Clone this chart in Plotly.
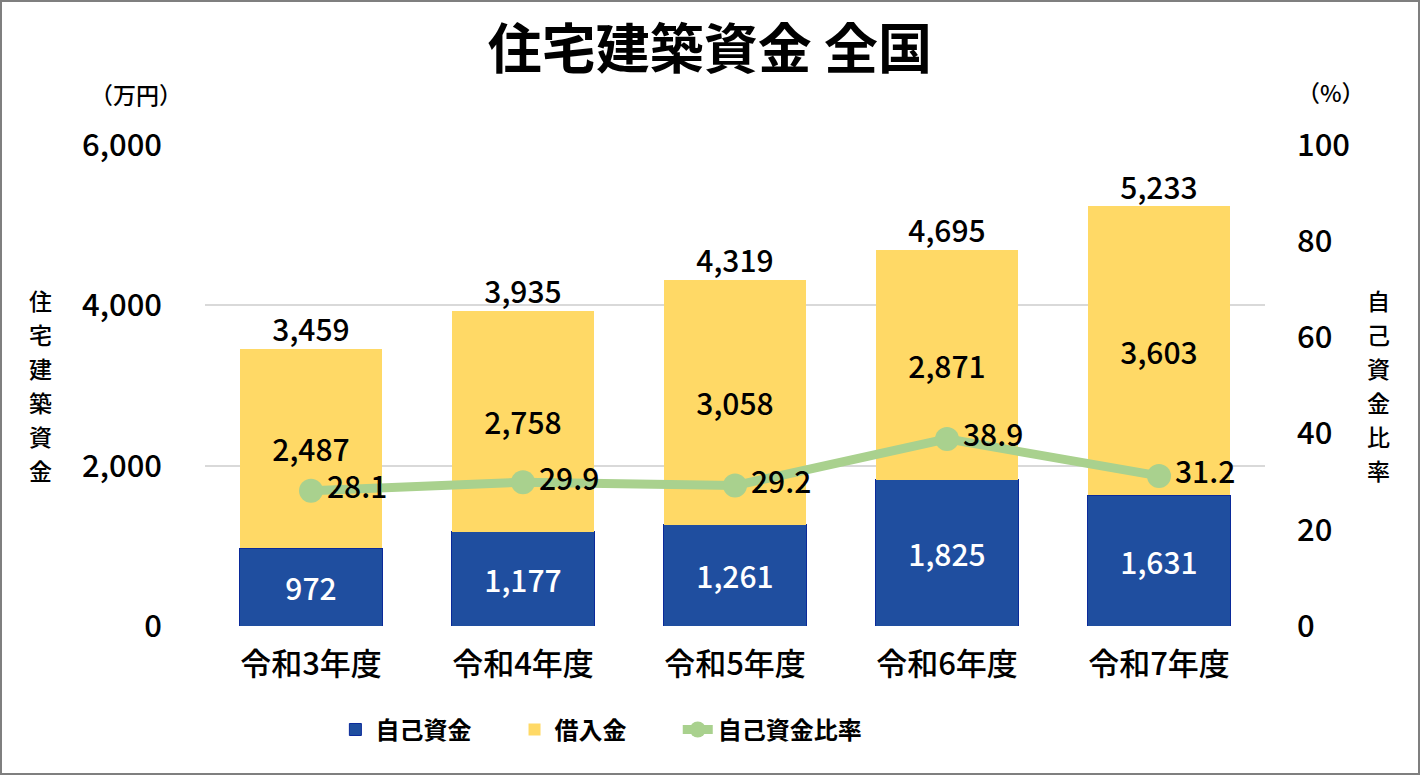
import plotly.graph_objects as go

# データ
years = ['令和3年度', '令和4年度', '令和5年度', '令和6年度', '令和7年度']
jiko = [972, 1177, 1261, 1825, 1631]        # 自己資金
kariire = [2487, 2758, 3058, 2871, 3603]    # 借入金
total = [3459, 3935, 4319, 4695, 5233]      # 合計
ratio = [28.1, 29.9, 29.2, 38.9, 31.2]      # 自己資金比率

FONT = 'Noto Sans CJK JP'
BLUE = '#1F4E9F'
YELLOW = '#FFD966'
GREEN = '#A9D18E'
LBL = dict(size=30, family=FONT, weight=500)

fmt = lambda v: f'{v:,}'

fig = go.Figure()

fig.add_trace(go.Bar(
    x=years, y=jiko, name='自己資金', legend='legend',
    marker=dict(color=BLUE, line=dict(color='#0A2A9A', width=1)),
    text=[fmt(v) for v in jiko], textposition='inside', insidetextanchor='middle',
    textfont=dict(LBL, color='white'),
    hoverinfo='skip',
))
fig.add_trace(go.Bar(
    x=years, y=kariire, name='借入金', legend='legend2',
    marker=dict(color=YELLOW, line=dict(width=0)),
    text=[fmt(v) for v in kariire], textposition='inside', insidetextanchor='middle',
    textfont=dict(LBL, color='black'),
    hoverinfo='skip',
))
# 合計ラベル
fig.add_trace(go.Scatter(
    x=years, y=total, mode='text', showlegend=False,
    text=[fmt(v) for v in total], textposition='top center',
    textfont=dict(LBL, color='black'),
    hoverinfo='skip',
))
fig.add_trace(go.Scatter(
    x=years, y=ratio, name='自己資金比率', yaxis='y2', legend='legend3',
    mode='lines+markers+text',
    line=dict(color=GREEN, width=9),
    marker=dict(color=GREEN, size=24),
    text=[f'{v:.1f}' for v in ratio], textposition='middle right',
    textfont=dict(LBL, color='black'),
    hoverinfo='skip',
))

leg = dict(orientation='h', y=-0.216, yanchor='middle', xanchor='left',
           font=dict(size=24, weight='bold'), itemwidth=30, bgcolor='rgba(0,0,0,0)')

fig.update_layout(
    width=1420, height=775,
    barmode='stack', bargap=0.33,
    paper_bgcolor='white', plot_bgcolor='white',
    font=dict(family=FONT, color='black'),
    margin=dict(l=205, r=155, t=145, b=149),
    title=dict(text='住宅建築資金 全国', x=0.5, xanchor='center', y=0.935, yanchor='middle',
               font=dict(size=54, family=FONT, weight='bold')),
    xaxis=dict(showline=False, ticks='', tickfont=dict(size=31, weight=500),
               ticklabelstandoff=17),
    yaxis=dict(range=[0, 6000], tickvals=[0, 2000, 4000, 6000], tickformat=',',
               showgrid=True, gridcolor='#D9D9D9', gridwidth=2, zeroline=False,
               tickfont=dict(size=31, weight=500), ticklabelstandoff=42),
    yaxis2=dict(range=[0, 100], tickvals=[0, 20, 40, 60, 80, 100], overlaying='y',
                side='right', showgrid=False, zeroline=False,
                tickfont=dict(size=31, weight=500), ticklabelstandoff=31),
    legend=dict(leg, x=0.123),
    legend2=dict(leg, x=0.292),
    legend3=dict(leg, x=0.446),
    showlegend=True,
)

ann = dict(xref='paper', yref='paper', xanchor='center', yanchor='middle',
           showarrow=False, font=dict(size=23, weight=500))
fig.add_annotation(ann, text='（万円）', x=-0.065, y=1.106)
fig.add_annotation(ann, text='（%）', x=1.062, y=1.11)

# 縦書きの軸タイトル（1文字ずつ）
for i, ch in enumerate('住宅建築資金'):
    fig.add_annotation(ann, text=ch, x=-0.155, y=(626 - 300 - 34 * i) / 481)
for i, ch in enumerate('自己資金比率'):
    fig.add_annotation(ann, text=ch, x=1.107, y=(626 - 300 - 34 * i) / 481)

# 外枠
fig.add_shape(type='rect', xref='paper', yref='paper',
              x0=-204 / 1060, x1=1 + 154 / 1060, y0=-148 / 481, y1=1 + 144 / 481,
              line=dict(color='#7F7F7F', width=2))

fig.write_html('out.html', config={'displayModeBar': False},
               post_script="document.body.style.margin='0';document.body.style.overflow='hidden';")
